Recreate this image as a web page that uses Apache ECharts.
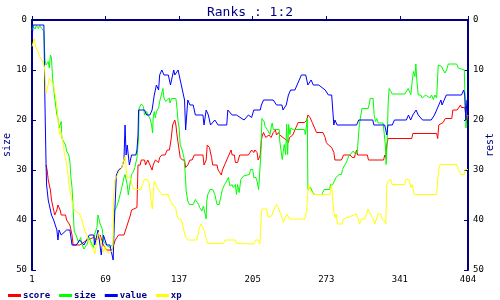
<!DOCTYPE html>
<html>
<head>
<meta charset="utf-8">
<script src="https://cdn.jsdelivr.net/npm/echarts@6/dist/echarts.min.js"></script>
<style>html,body{margin:0;padding:0;background:#fff;}#c{width:500px;height:300px;}</style>
</head>
<body>
<div id="c"></div>
<script>
var titleText = 'Ranks : 1:2';
var seriesNames = ['score', 'size', 'value', 'xp'];
var seriesColors = ['#ff0000', '#00ff00', '#0000ff', '#ffff00'];
var xTickLabels = [1, 69, 137, 205, 273, 341, 404];

var scoreData = [[14,29],[15,30],[16,32],[18,34],[19,36],[21,38],[22,39],[24,38],[25,37],[27,38],[28,39],[32,39],[33,40],[36,41],[38,43],[39,45],[45,45],[52,44],[58,43.5],[61,44],[64,43],[67,45],[70,46],[75,46],[78,44],[81,43],[86,43],[89,41],[92,39],[93,38],[98,37.5],[99,29],[101,29],[102,28],[105,28],[106,29],[108,28],[110,29],[112,30],[113,29],[115,28],[116,28],[118,28.5],[119,27.5],[121,27],[124,27],[126,26],[128,26],[129.5,24],[131,21],[133,20],[134,21],[135,23],[136,24.5],[138,27.5],[140,28],[142,28],[143,29.5],[145,29],[147,28],[149,28],[151,27],[157,27],[159,27],[160,29],[162,28],[163,25],[165,25.5],[167,27.5],[168,29],[172,29],[173,30],[176,31],[177,30],[179,29],[181,28],[183,27],[185,26],[186,27],[188,27],[189,28.5],[191,28.5],[193,27],[201,27],[204,26],[206,26.5],[207,26],[209,26.5],[210,28],[212,27],[213,24],[214,23],[215,22.5],[217,23.5],[218,23.5],[220,23],[222,23.5],[224,22.5],[226,22],[227,23],[229,22.5],[230,23],[233,23.5],[236,24],[238,24.5],[239,23.5],[242,23],[244,22],[247,20.5],[253,20.5],[255,20],[256,19],[258,19.5],[260,20.5],[263,22],[264,22.5],[270,22.5],[272,23.5],[273,24.5],[275,25],[278,25.5],[280,26.5],[281,28],[287,28],[289,27],[295,27],[297,27.5],[299,27.5],[301,26],[302,27],[311,27],[312,28],[326,28],[327,27],[328,27.5],[329,25],[330,23.7],[352,23.7],[353,22.7],[375,22.7],[376,23.7],[377,21],[381,20.5],[383,19.7],[389,19.7],[390,18],[394,18],[397,17],[398,17.5],[401,17.5],[402,19],[403,20],[404,19]];

var sizeData = [[1,2],[2,1.3],[4,1.8],[5,1.1],[7,1.7],[8,1.1],[10,1.7],[11.5,1.3],[12,2.3],[13,8],[14,9],[15,9.3],[16,8.3],[17,9.6],[18,7],[19,7.6],[20,11.6],[21,13.6],[22,15.6],[24,19],[25,19.6],[26,21.6],[28,20.3],[28.5,23.6],[30,24.2],[32,25],[33,26.2],[35,27],[36,28.2],[37,31.5],[38,33.5],[39,37.5],[39.5,40],[40,42.2],[42,43.2],[44,44.5],[46,43.5],[47,44.8],[49,45.8],[52,44.8],[54,43.5],[56,44.8],[58,45.5],[59,42.8],[61,41.5],[62,39],[64,40.8],[66,41.8],[67,44.2],[70,45.1],[73,45.5],[76,44.8],[77,38.2],[79,37.5],[81,36.2],[84,33.5],[86,31.5],[87,30.9],[89,32.9],[90,35],[92,32.2],[93,30.9],[95,30.2],[96,29.5],[98,27.6],[99.5,23.6],[100,17.6],[102,16.8],[104,17.3],[105,19],[107,18.3],[108,19],[110,19.6],[111.5,21],[112.5,22.6],[113,19.6],[114,18.3],[115,19.6],[116,18.3],[118,17.6],[119,16.3],[121,14.6],[122,13.7],[123,15.6],[124.5,16.3],[126,16.6],[128,15.6],[128.5,16.6],[130,15.7],[134,15.7],[135,17.6],[136,20.3],[137,21.6],[138,24.9],[139,25.2],[140,26.2],[141.5,27.6],[142.5,30.2],[143.5,34.2],[145,36.2],[146.5,36.9],[150,36.9],[152,35.9],[153,36.2],[155,36.9],[156,37.5],[158,38.2],[159.5,37.2],[161,38.8],[162,39.8],[162.5,36.2],[163.5,34.9],[165.5,33.9],[168,33.9],[170,34.9],[172,36.9],[174,36.9],[176,34.9],[177,33.9],[179,32.9],[181,32.2],[182.5,31.5],[184,33.2],[186,32.9],[187,33.5],[189,32.9],[190,34.9],[191,32.9],[192.5,34.5],[194,31.9],[196.5,31.2],[198,30.9],[202,30.9],[203,29.9],[205,29.9],[206,31.5],[208,31.5],[209,32.2],[210.5,33.9],[212,33.9],[212.5,26.9],[213.5,19.7],[215.5,20.3],[216.5,21.3],[218.5,21.9],[220,22.3],[221,22.9],[222,21.6],[223,20.6],[224,21.9],[229.5,21.9],[230,24.2],[231,25.9],[232.3,27.9],[233.3,26.2],[234.2,24.9],[235.4,26.9],[236.4,20.8],[237.3,26.9],[238.2,20.9],[239.4,22.9],[240.4,21.6],[242.5,21.9],[253,21.9],[253.5,22.9],[254.3,21.9],[255.5,19.6],[256,33.9],[257,33.9],[258.6,33.5],[260.4,34.5],[262.6,34.9],[269,34.9],[271,33.9],[276,33.9],[277,32.9],[279,32.9],[280,32.5],[282,31.5],[283,31.2],[285,30.9],[287,30.9],[288,29.9],[289.5,29.2],[291.3,28.6],[292.6,27.9],[293.8,27.2],[295.6,26.9],[298,26.2],[299.7,25.9],[300.2,26.9],[301.8,26.2],[302.4,24.2],[303.6,20.9],[305,19],[306,17.7],[311.7,17.7],[313,16.6],[313.5,15.7],[316.3,15.7],[317.2,18.9],[318.5,20.3],[319.7,19.7],[321,20.6],[325.5,20.6],[326.5,22.6],[327.7,25.2],[328.3,28.9],[329.3,24.2],[330.2,16.6],[331.1,13.7],[332.7,14.3],[334,14.8],[345.6,14.8],[347.2,14.4],[348.7,13.7],[349.6,13.9],[351.2,14.9],[352.4,12.3],[353.6,10.3],[355,11.3],[355.8,8.8],[356.7,12],[358,15],[360.4,15],[361.7,15.6],[363.2,15.9],[364.8,15],[366.6,15],[368.8,15.6],[370.3,15],[372,15.9],[373.4,15],[375,15.6],[376.5,9],[378,8.8],[379.6,9.3],[381,10],[382.7,10.6],[384.2,10],[385.8,8.8],[393.5,8.8],[395,9.6],[398,9.8],[400.6,10],[401.2,15.6],[402.1,21.6],[403,19.3],[404,19]];

var valueData = [[1,4],[2,1],[12,1],[13,17],[14,29],[14.5,33],[16,36],[19,39],[21,40],[24,42],[25,44],[26,42],[28,43],[33,42],[36,42],[38,45],[42,45],[45,44],[49,45],[54,43],[58,43],[59,45],[61,43],[62,42],[65,47],[67,43],[70,45],[73,45],[76,48],[77,41],[79,31],[81,30],[84,29.5],[86,28],[87,21],[88,27],[89,25],[91,29],[93,27],[97,27],[98,26],[99,23],[99.5,18],[102,18],[105,18],[107,19],[110,19],[112,18],[114,15],[116,13],[118,14],[119,11],[121,10],[123,11],[127,11],[129,13],[132,10],[133,11],[136,10],[138,12],[139,13],[142,16],[143,22],[145,16],[147,17],[150,17],[152,19],[159,19],[160,21],[162,18],[164,19],[166,21],[170,20],[173,21],[181,21],[182,18],[186,19],[190,19],[197,20],[201,19],[204,19.5],[206,18],[212,18],[213,17],[215,16],[224,16],[227,17],[232,17],[233,18],[236,17],[238,15],[240,14],[244,14],[246,13],[248,12],[250,11],[254,11],[256,13],[259,12],[261,13],[266,13],[272,14],[275,15],[278,15],[279,18],[280,21],[281,20],[283,21],[301,21],[303,20],[316,20],[317,21],[327,21],[328,22],[329,23],[330,21],[334,21],[336,20],[347,20],[349,19],[351,20],[353,19],[356,18],[358,19],[362,20],[370,20],[373,19],[375,18],[377,17],[379,16],[380,17],[382,16],[384,15],[398,15],[400,14],[401,15],[402,20],[403,16],[404,16]];

var xpData = [[1,5.3],[2,4.6],[3,3.7],[4,5],[5,5.6],[7,6.6],[8,7.3],[10,8],[11.5,8.3],[12.5,9.3],[13,11],[14,14.6],[15,14.3],[16,12.9],[17,11.6],[18,12],[19,12.3],[21,12.9],[21.5,13.9],[22.5,14.9],[23.5,16.3],[24.5,18.3],[25.5,20.9],[26.5,22.9],[27.5,22.2],[28.5,23.2],[30,24.9],[31,26.9],[32.5,28.2],[34,30.2],[35,32.9],[35.6,33.5],[37,35.2],[38,36.2],[39,37.5],[41,38.2],[43,38.5],[45,38.8],[47,39.8],[48.6,41.2],[50,42.2],[52,43.2],[53,44.2],[55,44.8],[56,45.2],[58,46.1],[59,46.8],[60,45.5],[61,44.2],[62.5,42.5],[64,42.8],[65.5,44.8],[67,46.5],[68.7,45.2],[69.6,46.1],[71,45.8],[72.7,46.8],[75,46.1],[76,44.8],[76.4,36.2],[77.4,32],[79,31.5],[81,30.5],[82.6,30],[84,29.5],[85.7,28],[87.2,27.3],[88.7,31.5],[90,31.8],[91.8,31.5],[93.4,33],[95,33.8],[96.5,34],[99.2,33.9],[101.7,33.9],[103,32.9],[104.8,31.9],[107.8,31.9],[109.1,32.5],[110,33.9],[110.9,35.9],[112.2,37.8],[113.1,34.9],[114,32.2],[115.3,32.9],[116.2,33.2],[117.7,33.9],[119.3,33.9],[120.8,34.9],[127,34.9],[128.5,35.9],[130,36.5],[131.6,37.2],[133.8,37.5],[134.7,38.8],[136.3,39.8],[138.7,39.8],[140,40.8],[141.8,40.8],[143,43.5],[145.5,44],[153.2,44],[154.2,43.2],[155.7,41.5],[157.3,40.8],[158.8,40.8],[160.3,42.2],[161.6,43.5],[163.4,44.7],[178,44.7],[179.5,44],[188.8,44],[190.3,44.7],[206.1,44.8],[207.6,44],[210.1,44],[211.6,44.8],[212.6,40.8],[213.5,37.8],[217.8,37.8],[219.4,39.5],[220.9,39.8],[222.5,39.2],[224,38.2],[225.5,37.5],[227.1,36.9],[228.6,37.5],[230.2,38.5],[231.7,39.2],[233.3,40.5],[234.8,40.8],[236.4,38.8],[237.9,38.8],[239.4,39.8],[253.3,39.8],[254.9,38.2],[255.8,34.9],[256.7,32.9],[258,33.9],[259.5,33.9],[261.1,34.9],[276.5,34.9],[278,32.9],[279,36.2],[280.2,38.8],[281.1,39.5],[282.1,38.8],[283.3,40.8],[287.3,40.8],[288.9,39.8],[300.8,38.8],[302.4,39.8],[303.9,40.8],[305.5,39.8],[308.6,39.8],[310.1,38.8],[311.7,37.8],[313.2,38.5],[314.7,38.8],[316.3,39.8],[317.8,40.8],[319.4,40.8],[320.9,38.8],[323.4,38.8],[324.6,39.8],[327.1,40.2],[328,40.8],[328.9,32.9],[330.2,32.2],[331.1,31.9],[332.7,31.9],[333.9,32.9],[345.6,32.9],[346.5,31.9],[349.3,31.9],[351.2,33.5],[352.4,32.9],[353.3,33.9],[354.3,34.9],[375,34.9],[375.9,32.2],[377.1,29.9],[378.1,28.9],[393.5,28.9],[395,29.9],[397.5,30.9],[400.6,30.9],[401.2,29.9],[404,29.9]];

var allData = [scoreData, sizeData, valueData, xpData];
var NAVY = '#000080';
var MONO = 'DejaVu Sans Mono';

var chart = echarts.init(document.getElementById('c'), null, {renderer: 'canvas'});
function yAxisDef(pos, name) {
  return {
    type: 'value', position: pos, min: 0, max: 50, interval: 10, inverse: true,
    name: name, nameLocation: 'middle', nameGap: pos === 'left' ? 20 : 17, nameRotate: 90,
    nameMoveOverlap: false,
    nameTextStyle: {color: NAVY, fontFamily: MONO, fontSize: 10},
    axisLine: {show: true, lineStyle: {color: NAVY, width: 2}},
    axisTick: {show: true, inside: true, length: 4, lineStyle: {color: NAVY}},
    axisLabel: {color: '#000', fontFamily: MONO, fontSize: 9, margin: 5},
    splitLine: {show: false}
  };
}
chart.setOption({
  animation: false,
  backgroundColor: '#fff',
  title: {text: titleText, left: 'center', top: 1,
    textStyle: {color: NAVY, fontFamily: MONO, fontSize: 13, fontWeight: 'normal'}},
  legend: {
    left: 3, top: 286, itemWidth: 13, itemHeight: 3, itemGap: 9, icon: 'rect',
    textStyle: {color: NAVY, fontFamily: MONO, fontSize: 9, fontWeight: 'bold', padding: [0, 0, 0, -3]},
    data: seriesNames
  },
  grid: {left: 32, right: 32, top: 20, bottom: 30, containLabel: false, outerBoundsMode: 'none'},
  xAxis: {
    type: 'value', min: 1, max: 404,
    axisLine: {lineStyle: {color: NAVY, width: 2}},
    axisTick: {show: true, inside: true, length: 4, lineStyle: {color: NAVY}, customValues: xTickLabels},
    axisLabel: {color: '#000', fontFamily: MONO, fontSize: 9, margin: 5, customValues: xTickLabels},
    splitLine: {show: false}
  },
  yAxis: [yAxisDef('left', 'size'), yAxisDef('right', 'rest')],
  series: seriesNames.map(function (n, i) {
    return {
      name: n, type: 'line', data: allData[i], showSymbol: false, symbol: 'none',
      lineStyle: {width: 1, color: seriesColors[i]}, itemStyle: {color: seriesColors[i]},
      yAxisIndex: 0
    };
  })
});
</script>
</body>
</html>
